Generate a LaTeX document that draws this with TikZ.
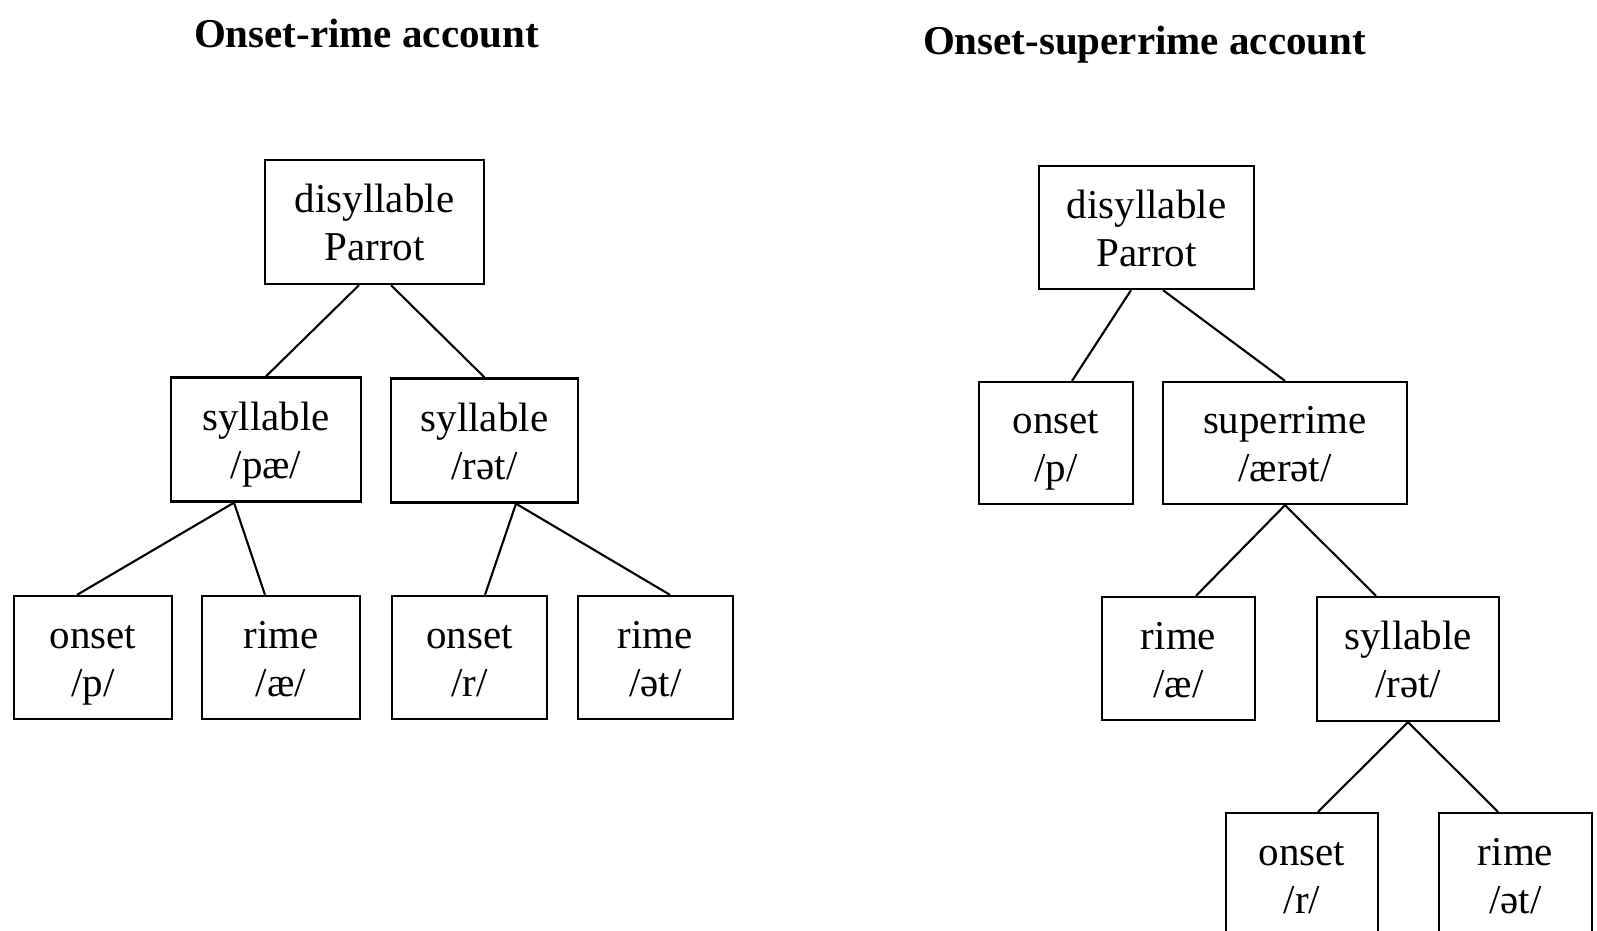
\documentclass[tikz,border=0pt]{standalone}
\usepackage{fontspec}
\setmainfont{Liberation Serif}
\usepackage{tikz}

% two lines of a box, with even line heights
\newcommand{\boxstrut}{\rule[-9.5pt]{0pt}{48pt}}
\newcommand{\boxtext}[2]{#1\boxstrut\\#2\boxstrut}

\tikzset{
  box/.style={draw, rectangle, line width=2.3pt, align=center, inner sep=0pt,
              minimum height=124pt, font=\fontsize{41}{48}\selectfont},
  title/.style={anchor=base, font=\fontsize{41}{48}\selectfont\bfseries},
  branch/.style={line width=2.1pt}
}

\begin{document}
\begin{tikzpicture}[x=1pt,y=-1pt]
\useasboundingbox (0,0) rectangle (1597,930);
\clip (0,0) rectangle (1597,930);

%% TITLES
\node[title] (tl) at (366.5,47) {Onset-rime account};
\node[title] (tr) at (1144.5,54) {Onset-superrime account};

%%% ONSET-RIME TREE
\node[box, minimum width=219pt] (dsL) at (374.5,222) {\boxtext{disyllable}{Parrot}};
\node[box, minimum width=190pt] (sylPae) at (266,439.5) {\boxtext{syllable}{/pæ/}};
\node[box, minimum width=187pt] (sylRet) at (484.5,440.5) {\boxtext{syllable}{/rət/}};
\node[box, minimum width=158pt, minimum height=123pt] (onP) at (93,657.5) {\boxtext{onset}{/p/}};
\node[box, minimum width=158pt, minimum height=123pt] (rimAe) at (281,657.5) {\boxtext{rime}{/æ/}};
\node[box, minimum width=155pt, minimum height=123pt] (onR) at (469.5,657.5) {\boxtext{onset}{/r/}};
\node[box, minimum width=155pt, minimum height=123pt] (rimEt) at (655.5,657.5) {\boxtext{rime}{/ət/}};

% branches
\draw[branch] ([xshift=-15.5pt]dsL.south) -- (sylPae.north);
\draw[branch] ([xshift=16.5pt]dsL.south) -- (sylRet.north);
\draw[branch] ([xshift=-32pt]sylPae.south) -- ([xshift=-16pt]onP.north);
\draw[branch] ([xshift=-32pt]sylPae.south) -- ([xshift=-16pt]rimAe.north);
\draw[branch] ([xshift=31.5pt]sylRet.south) -- ([xshift=15.5pt]onR.north);
\draw[branch] ([xshift=31.5pt]sylRet.south) -- ([xshift=14.5pt]rimEt.north);

%%% ONSET-SUPERRIME TREE
\node[box, minimum width=215pt, minimum height=123pt] (dsR) at (1146.5,227.5) {\boxtext{disyllable}{Parrot}};
\node[box, minimum width=154pt, minimum height=122pt] (onP2) at (1056,443) {\boxtext{onset}{/p/}};
\node[box, minimum width=244pt, minimum height=122pt] (supR) at (1285,443) {\boxtext{superrime}{/ærət/}};
\node[box, minimum width=153pt, minimum height=123pt] (rimAe2) at (1178.5,658.5) {\boxtext{rime}{/æ/}};
\node[box, minimum width=182pt] (sylRet2) at (1408,659) {\boxtext{syllable}{/rət/}};
\node[box, minimum width=152pt, minimum height=123pt] (onR2) at (1302,874.5) {\boxtext{onset}{/r/}};
\node[box, minimum width=153pt, minimum height=123pt] (rimEt2) at (1515.5,874.5) {\boxtext{rime}{/ət/}};

% branches
\draw[branch] ([xshift=-15.5pt]dsR.south) -- ([xshift=16pt]onP2.north);
\draw[branch] ([xshift=16.5pt]dsR.south) -- (supR.north);
\draw[branch] (supR.south) -- ([xshift=17.5pt]rimAe2.north);
\draw[branch] (supR.south) -- ([xshift=-32pt]sylRet2.north);
\draw[branch] (sylRet2.south) -- ([xshift=16pt]onR2.north);
\draw[branch] (sylRet2.south) -- ([xshift=-17.5pt]rimEt2.north);
\end{tikzpicture}
\end{document}
